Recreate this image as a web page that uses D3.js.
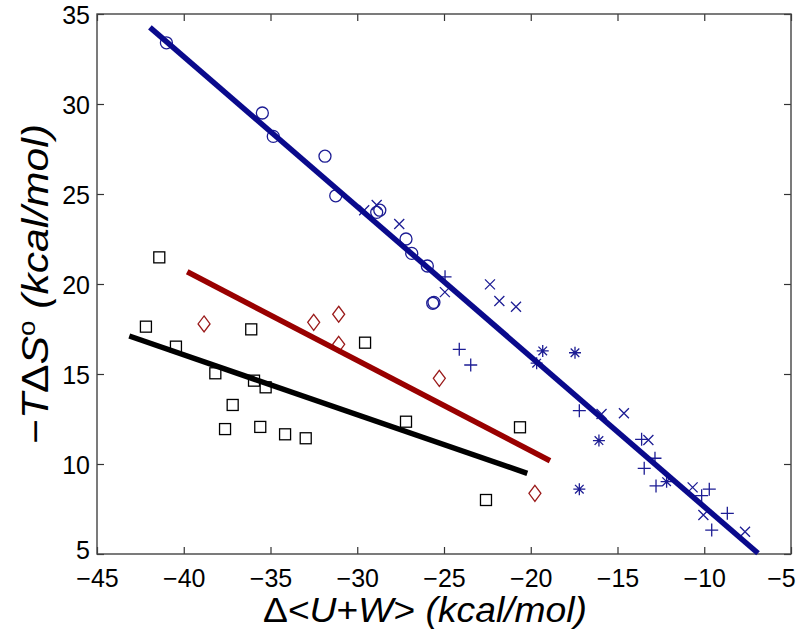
<!DOCTYPE html>
<html><head><meta charset="utf-8">
<script src="https://cdn.jsdelivr.net/npm/d3@7"></script>
<style>
body{margin:0;background:#fff}
svg{display:block}
text{font-family:"Liberation Sans",Arial,Helvetica,sans-serif}
</style>
</head><body>
<svg id="chart" width="800" height="636"></svg>
<script>
// ---- data ----
const xTicks = [-45,-40,-35,-30,-25,-20,-15,-10,-5];
const yTicks = [5,10,15,20,25,30,35];

const circleX = [-41.0,-35.47,-34.84,-31.86,-31.24,-28.88,-28.7,-27.19,-26.86,-25.96,-25.65,-25.58];
const circleY = [33.4,29.5,28.2,27.1,24.9,23.98,24.1,22.5,21.7,21.0,18.93,18.98];

const crossX = [-29.6,-28.88,-27.58,-24.95,-22.35,-21.81,-20.85,-15.92,-14.63,-13.22,-10.67,-10.05,-7.65];
const crossY = [24.1,24.39,23.33,19.55,19.98,19.06,18.74,12.78,12.82,11.33,8.7,7.17,6.24];

const plusX = [-24.94,-24.12,-23.46,-17.2,-13.61,-12.84,-13.46,-12.78,-9.71,-10.15,-8.67,-9.57];
const plusY = [20.4,16.37,15.5,12.96,11.37,10.32,9.76,8.78,8.6,8.24,7.26,6.33];

const starX = [-19.31,-17.45,-19.66,-16.07,-17.2,-12.17];
const starY = [16.28,16.18,15.6,11.3,8.6,9.02];

const squareX = [-41.41,-42.18,-40.45,-36.11,-38.18,-35.95,-35.28,-37.18,-37.62,-35.59,-34.16,-32.97,-29.55,-27.19,-20.62,-22.58];
const squareY = [21.48,17.63,16.52,17.48,15.04,14.63,14.26,13.28,11.94,12.06,11.65,11.43,16.74,12.35,12.04,8.0];

const diamondX = [-38.83,-32.51,-31.07,-31.07,-25.27,-19.76];
const diamondY = [17.78,17.87,18.32,16.65,14.76,8.37];

const blueFitX = [-41.95,-6.9];
const blueFitY = [34.26,5.04];
const redFitX = [-39.8,-18.89];
const redFitY = [20.68,10.18];
const blackFitX = [-43.14,-20.2];
const blackFitY = [17.11,9.48];

// ---- layout ----
const L=97, R=791, T=14, B=554;
const svg = d3.select("#chart");
const x = d3.scaleLinear().domain([-45,-5]).range([L,R]);
const y = d3.scaleLinear().domain([5,35]).range([B,T]);
const fmt = d => String(d).replace("-","\u2212");
const blue="#1d1d94", blueLine="#0a0a8c", red="#9a1a1a", redLine="#990000";

// axes (ticks inward)
const tk=7;
const gB = svg.append("g").attr("transform",`translate(0,${B})`)
  .call(d3.axisBottom(x).tickValues(xTicks).tickSize(-tk).tickFormat(fmt));
gB.selectAll("text").attr("y",15).attr("dy","0.72em")
  .attr("x",d=>d===-5?-10:0);
const gT = svg.append("g").attr("transform",`translate(0,${T})`)
  .call(d3.axisTop(x).tickValues(xTicks).tickSize(-tk).tickFormat(""));
const gL = svg.append("g").attr("transform",`translate(${L},0)`)
  .call(d3.axisLeft(y).tickValues(yTicks).tickSize(-tk).tickFormat(fmt));
gL.selectAll("text").attr("x",-7).attr("dy","0.36em")
  .attr("y",d=>d===5?-5:0);
const gR = svg.append("g").attr("transform",`translate(${R},0)`)
  .call(d3.axisRight(y).tickValues(yTicks).tickSize(-tk).tickFormat(""));
[gB,gT,gL,gR].forEach(g=>{
  g.select(".domain").remove();
  g.selectAll("line").attr("stroke","#333").attr("stroke-width",1.2);
  g.selectAll("text").attr("font-size",25).attr("fill","#000")
   .attr("font-family","'Liberation Sans',Arial,sans-serif");
});
svg.append("rect").attr("x",L).attr("y",T).attr("width",R-L).attr("height",B-T)
  .attr("fill","none").attr("stroke","#444").attr("stroke-width",1.4);

const plot = svg.append("g");
const zip = (a,b)=>a.map((v,i)=>[v,b[i]]);

// markers
plot.selectAll(".sq").data(zip(squareX,squareY)).join("rect")
  .attr("x",d=>x(d[0])-5.5).attr("y",d=>y(d[1])-5.5).attr("width",11).attr("height",11)
  .attr("fill","none").attr("stroke","#000").attr("stroke-width",1.3);
plot.selectAll(".dm").data(zip(diamondX,diamondY)).join("path")
  .attr("transform",d=>`translate(${x(d[0])},${y(d[1])})`)
  .attr("d","M0,-8L6,0L0,8L-6,0Z")
  .attr("fill","none").attr("stroke",red).attr("stroke-width",1.3);
plot.selectAll(".ci").data(zip(circleX,circleY)).join("circle")
  .attr("cx",d=>x(d[0])).attr("cy",d=>y(d[1])).attr("r",6)
  .attr("fill","none").attr("stroke",blue).attr("stroke-width",1.3);
plot.selectAll(".cr").data(zip(crossX,crossY)).join("path")
  .attr("transform",d=>`translate(${x(d[0])},${y(d[1])})`)
  .attr("d","M-5,-5L5,5M-5,5L5,-5")
  .attr("fill","none").attr("stroke",blue).attr("stroke-width",1.3);
plot.selectAll(".pl").data(zip(plusX,plusY)).join("path")
  .attr("transform",d=>`translate(${x(d[0])},${y(d[1])})`)
  .attr("d","M-6.5,0H6.5M0,-6.5V6.5")
  .attr("fill","none").attr("stroke",blue).attr("stroke-width",1.3);
plot.selectAll(".st").data(zip(starX,starY)).join("path")
  .attr("transform",d=>`translate(${x(d[0])},${y(d[1])})`)
  .attr("d","M-6,0H6M0,-6V6M-4.3,-4.3L4.3,4.3M-4.3,4.3L4.3,-4.3")
  .attr("fill","none").attr("stroke",blue).attr("stroke-width",1.3);

// fit lines
const line = d3.line().x(d=>x(d[0])).y(d=>y(d[1]));
[[zip(blackFitX,blackFitY),"#000"],[zip(redFitX,redFitY),redLine],[zip(blueFitX,blueFitY),blueLine]]
 .forEach(([pts,c])=>plot.append("path").attr("d",line(pts)).attr("fill","none")
   .attr("stroke",c).attr("stroke-width",5.5).attr("stroke-linecap","butt"));

// axis labels
const xl = svg.append("text").attr("x",425).attr("y",622).attr("text-anchor","middle")
  .attr("font-size",35).attr("fill","#000")
  .attr("textLength",324).attr("lengthAdjust","spacingAndGlyphs");
xl.append("tspan").text("\u0394<");
xl.append("tspan").attr("font-style","italic").text("U");
xl.append("tspan").text("+");
xl.append("tspan").attr("font-style","italic").text("W");
xl.append("tspan").text("> ");
xl.append("tspan").attr("font-style","italic").text("(kcal/mol)");

const yl = svg.append("text").attr("transform",`translate(48,${(T+B)/2}) rotate(-90)`)
  .attr("text-anchor","middle").attr("font-size",37).attr("fill","#000")
  .attr("textLength",320).attr("lengthAdjust","spacingAndGlyphs");
yl.append("tspan").text("\u2212");
yl.append("tspan").attr("font-style","italic").text("T");
yl.append("tspan").text("\u0394");
yl.append("tspan").attr("font-style","italic").text("S");
yl.append("tspan").attr("font-size",24).attr("dy",-13).text("o");
yl.append("tspan").attr("dy",13).attr("font-style","italic").text(" (kcal/mol)");
</script>
</body></html>
